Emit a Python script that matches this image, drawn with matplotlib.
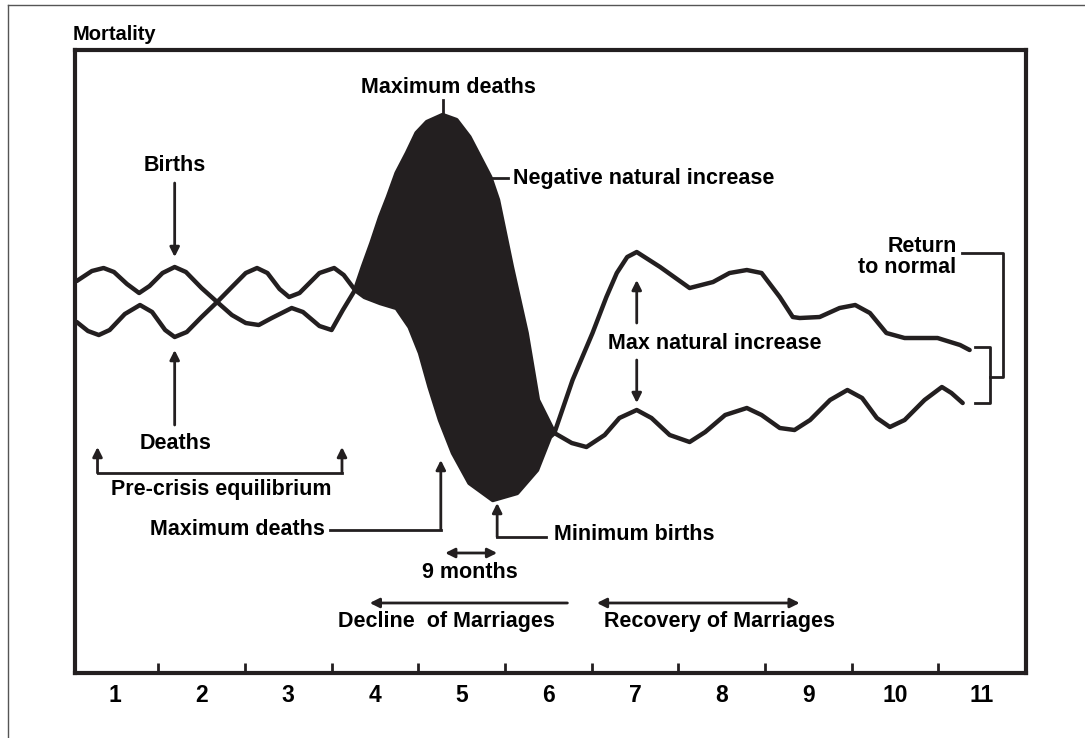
import matplotlib
matplotlib.use('Agg')
import matplotlib.pyplot as plt
import numpy as np
from matplotlib.lines import Line2D

plt.rcParams['font.family'] = ['Liberation Sans', 'DejaVu Sans']
plt.rcParams['font.weight'] = 'bold'

# births curve (time units, mortality index)
birth_x = [0.56, 0.735, 0.87, 0.99, 1.14, 1.28, 1.40, 1.55, 1.69, 1.82, 2.00, 2.18, 2.35, 2.51,
           2.64, 2.76, 2.90, 3.01, 3.13, 3.36, 3.53, 3.64, 3.77,
           3.88, 4.06, 4.25, 4.40, 4.52, 4.63, 4.75, 4.90, 5.09, 5.36, 5.64, 5.87, 6.02, 6.07,
           6.28, 6.51, 6.67, 6.79, 6.91, 7.02, 7.29, 7.63, 7.90, 8.09, 8.29, 8.46, 8.67,
           8.82, 8.90, 9.13, 9.36, 9.54, 9.71, 9.90, 10.11, 10.49, 10.75, 10.86]
birth_y = [39.2, 40.2, 40.5, 40.1, 38.9, 38.0, 38.7, 40.0, 40.6, 40.1, 38.5, 37.1, 38.6, 40.0,
           40.5, 40.0, 38.4, 37.6, 38.0, 40.0, 40.5, 39.8, 38.3,
           37.6, 37.0, 36.5, 34.6, 32.0, 28.6, 25.3, 22.0, 19.0, 17.3, 18.0, 20.3, 23.6, 24.0,
           29.3, 34.0, 37.6, 40.0, 41.6, 42.1, 40.6, 38.5, 39.1, 40.0, 40.3, 40.0, 37.6,
           35.6, 35.5, 35.6, 36.5, 36.8, 36.0, 34.0, 33.5, 33.5, 32.8, 32.3]

# deaths curve
death_x = [0.56, 0.69, 0.815, 0.94, 1.115, 1.29, 1.43, 1.58, 1.69, 1.83, 2.00, 2.18, 2.35, 2.51,
           2.66, 2.81, 3.04, 3.17, 3.36, 3.50, 3.63, 3.77,
           3.86, 3.96, 4.06, 4.15, 4.25, 4.37, 4.48, 4.60, 4.78, 4.94, 5.09, 5.21, 5.33, 5.42,
           5.58, 5.75, 5.88, 6.07,
           6.27, 6.44, 6.65, 6.82, 7.02, 7.19, 7.40, 7.63, 7.81, 8.04, 8.29, 8.46, 8.67,
           8.84, 9.02, 9.25, 9.45, 9.62, 9.79, 9.94, 10.11, 10.34, 10.54, 10.65, 10.78]
death_y = [35.1, 34.2, 33.8, 34.3, 35.9, 36.8, 36.1, 34.3, 33.6, 34.1, 35.6, 37.1, 35.8, 35.0,
           34.8, 35.5, 36.5, 36.1, 34.7, 34.3, 36.3, 38.3,
           40.6, 43.0, 45.6, 47.6, 50.0, 52.0, 54.0, 55.1, 55.8, 55.3, 53.6, 51.6, 49.6, 47.3,
           40.6, 34.0, 27.3, 24.0,
           23.0, 22.6, 23.8, 25.5, 26.3, 25.5, 23.8, 23.1, 24.1, 25.8, 26.5, 25.8, 24.5,
           24.3, 25.3, 27.3, 28.3, 27.5, 25.5, 24.6, 25.3, 27.3, 28.6, 28.0, 27.0]

crisis_start, crisis_end = 3.77, 6.07
x_ticks = list(range(1, 12))

fig = plt.figure(figsize=(10.85, 7.38), dpi=100)
ax = fig.add_axes([0.0691, 0.0881, 0.8765, 0.8441])
ax.set_xlim(0.54, 11.51)
ax.set_ylim(0, 62.3)

bx = np.array(birth_x); by = np.array(birth_y)
dx = np.array(death_x); dy = np.array(death_y)
mb = (bx >= crisis_start) & (bx <= crisis_end)
md = (dx >= crisis_start) & (dx <= crisis_end)
ax.fill(np.concatenate([dx[md], bx[mb][::-1]]), np.concatenate([dy[md], by[mb][::-1]]),
        color='#231f20', lw=0)
ax.plot(bx, by, color='#231f20', lw=3.2, solid_joinstyle='round', solid_capstyle='round')
ax.plot(dx, dy, color='#231f20', lw=3.2, solid_joinstyle='round', solid_capstyle='round')

for s in ax.spines.values():
    s.set_linewidth(3)
    s.set_color('#231f20')
ax.set_yticks([])
ax.set_xticks(x_ticks)
ax.set_xticklabels([str(t) for t in x_ticks], fontsize=16.5, fontweight='bold')
ax.set_xticks([t + 0.5 for t in x_ticks[:-1]], minor=True)
ax.tick_params(axis='x', which='major', length=0, pad=8)
ax.tick_params(axis='x', which='minor', direction='in', length=7, width=2, color='#231f20')

k = '#231f20'
fs = 15.5
def arrow(head, tail, style='-|>'):
    ax.annotate('', xy=head, xytext=tail,
                arrowprops=dict(arrowstyle=style, color=k, lw=2, shrinkA=0, shrinkB=0,
                                mutation_scale=14))

fig.text(73 / 1085, 1 - 35 / 738, 'Mortality', fontsize=14.5, fontweight='bold', ha='left', va='center')

ax.text(4.85, 58.6, 'Maximum deaths', fontsize=fs, ha='center', va='center')
ax.plot([4.78, 4.78], [57.3, 55.8], color=k, lw=2)

ax.text(5.59, 49.5, 'Negative natural increase', fontsize=fs, ha='left', va='center')
ax.plot([5.35, 5.53], [49.5, 49.5], color=k, lw=2)

ax.text(1.69, 50.8, 'Births', fontsize=fs, ha='center', va='center')
arrow((1.69, 41.6), (1.69, 49.0))

ax.text(1.70, 23.0, 'Deaths', fontsize=fs, ha='center', va='center')
arrow((1.69, 32.3), (1.69, 24.8))

ax.plot([0.80, 3.62], [20.0, 20.0], color=k, lw=2)
arrow((0.80, 22.6), (0.80, 20.0))
arrow((3.62, 22.6), (3.62, 20.0))
ax.text(2.23, 18.3, 'Pre-crisis equilibrium', fontsize=fs, ha='center', va='center')

ax.text(3.42, 14.3, 'Maximum deaths', fontsize=fs, ha='right', va='center')
ax.plot([3.48, 4.76], [14.3, 14.3], color=k, lw=2)
arrow((4.76, 21.3), (4.76, 14.3))

ax.text(6.07, 13.8, 'Minimum births', fontsize=fs, ha='left', va='center')
ax.plot([5.41, 5.97], [13.6, 13.6], color=k, lw=2)
arrow((5.41, 17.0), (5.41, 13.6))

arrow((5.41, 12.0), (4.81, 12.0), style='<|-|>')
ax.text(5.09, 10.0, '9 months', fontsize=fs, ha='center', va='center')

arrow((3.94, 7.0), (6.22, 7.0))
ax.text(4.83, 5.1, 'Decline  of Marriages', fontsize=fs, ha='center', va='center')
arrow((8.90, 7.0), (6.56, 7.0), style='<|-|>')
ax.text(7.98, 5.1, 'Recovery of Marriages', fontsize=fs, ha='center', va='center')

ax.text(6.69, 33.0, 'Max natural increase', fontsize=fs, ha='left', va='center')
arrow((7.02, 39.3), (7.02, 35.0))
arrow((7.02, 27.0), (7.02, 31.3))

ax.text(10.71, 41.6, 'Return\nto normal', fontsize=fs, ha='right', va='center',
        multialignment='right', linespacing=1.0)
ax.plot([10.77, 11.24, 11.24, 11.09], [42.0, 42.0, 29.6, 29.6], color=k, lw=2)
ax.plot([10.92, 11.09, 11.09, 10.92], [32.6, 32.6, 27.0, 27.0], color=k, lw=2)

# thin outer frame of the scanned page
fig.add_artist(Line2D([8 / 1085, 8 / 1085], [0, 1 - 5 / 738], color='#555555', lw=1))
fig.add_artist(Line2D([8 / 1085, 1], [1 - 5 / 738, 1 - 5 / 738], color='#555555', lw=1))

fig.savefig('out.png', dpi=100)
